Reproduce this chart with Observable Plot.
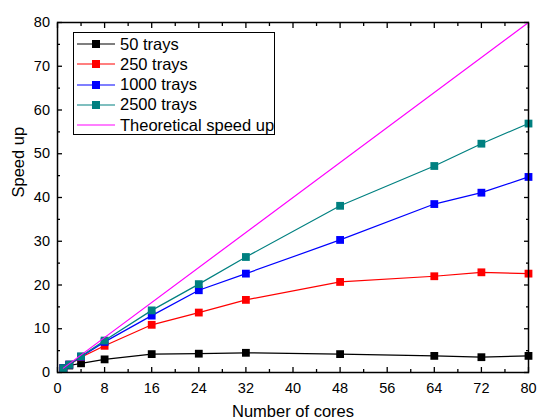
<!DOCTYPE html>
<html>
<head>
<meta charset="utf-8">
<script src="https://cdn.jsdelivr.net/npm/d3@7"></script>
<script src="https://cdn.jsdelivr.net/npm/@observablehq/plot@0.6"></script>
<style>
  html, body { margin: 0; padding: 0; background: #fff; }
  #chart { position: relative; width: 537px; height: 419px; font-family: "Liberation Sans", Arial, sans-serif; }
  #legend {
    position: absolute; left: 73px; top: 32px; width: 202px; height: 103px;
    border: 1px solid #000; background: #fff; box-sizing: border-box;
  }
  #legend .row { position: absolute; left: 0; height: 20px; display: flex; align-items: center; }
  #legend .row span { font-size: 16.5px; color: #000; margin-left: 4px; white-space: nowrap; }
</style>
</head>
<body>
<div id="chart"></div>
<script>
// Speed up measured for each problem size against the number of cores
const cores = [1, 2, 4, 8, 16, 24, 32, 48, 64, 72, 80];
const trays50   = [1.0, 1.6, 2.1, 3.0, 4.2, 4.3, 4.5, 4.2, 3.8, 3.5, 3.8];
const trays250  = [1.0, 1.8, 3.5, 6.1, 10.9, 13.7, 16.6, 20.7, 22.0, 22.9, 22.6];
const trays1000 = [1.0, 1.8, 3.6, 7.0, 13.0, 18.8, 22.6, 30.3, 38.5, 41.1, 44.7];
const trays2500 = [1.0, 1.8, 3.7, 7.3, 14.2, 20.2, 26.4, 38.1, 47.2, 52.3, 56.9];

// Ideal linear speed up
const idealCores = [1, 80];
const idealSpeedup = [1, 80];

const seriesNames = ["50 trays", "250 trays", "1000 trays", "2500 trays"];
const seriesValues = [trays50, trays250, trays1000, trays2500];
const seriesColors = ["#000000", "#ff0000", "#0000ff", "#008080"];
const idealName = "Theoretical speed up";
const idealColor = "#ff00ff";

// Axis ticks
const xMajor = [0, 8, 16, 24, 32, 40, 48, 56, 64, 72, 80];
const xMinor = [4, 12, 20, 28, 36, 44, 52, 60, 68, 76];
const yMajor = [0, 10, 20, 30, 40, 50, 60, 70, 80];
const yMinor = [5, 15, 25, 35, 45, 55, 65, 75];

const rows = [];
seriesNames.forEach((name, s) => {
  cores.forEach((c, i) => rows.push({series: name, cores: c, speedup: seriesValues[s][i]}));
});
const ideal = idealCores.map((c, i) => ({cores: c, speedup: idealSpeedup[i]}));

const tickFont = {fontSize: 14.5, fill: "#000"};
const marks = [];

// Ticks point inward on all four sides of the frame
marks.push(
  Plot.axisX(xMajor, {anchor: "bottom", tickSize: -5, tickPadding: 15, ...tickFont, label: null, strokeWidth: 1.3}),
  Plot.axisX(xMinor, {anchor: "bottom", tickSize: -3, tickFormat: () => "", label: null, strokeWidth: 1.3}),
  Plot.axisX(xMajor, {anchor: "top", tickSize: -5, tickFormat: () => "", label: null, strokeWidth: 1.3}),
  Plot.axisX(xMinor, {anchor: "top", tickSize: -3, tickFormat: () => "", label: null, strokeWidth: 1.3}),
  Plot.axisY(yMajor, {anchor: "left", tickSize: -5, tickPadding: 12.5, ...tickFont, label: null, strokeWidth: 1.3}),
  Plot.axisY(yMinor, {anchor: "left", tickSize: -3, tickFormat: () => "", label: null, strokeWidth: 1.3}),
  Plot.axisY(yMajor, {anchor: "right", tickSize: -5, tickFormat: () => "", label: null, strokeWidth: 1.3}),
  Plot.axisY(yMinor, {anchor: "right", tickSize: -3, tickFormat: () => "", label: null, strokeWidth: 1.3})
);

seriesNames.forEach((name, s) => {
  const data = rows.filter(d => d.series === name);
  marks.push(
    Plot.line(data, {x: "cores", y: "speedup", stroke: seriesColors[s], strokeWidth: 1.2}),
    Plot.dot(data, {x: "cores", y: "speedup", symbol: "square", r: 4.4, fill: seriesColors[s], stroke: "none"})
  );
});
marks.push(Plot.line(ideal, {x: "cores", y: "speedup", stroke: idealColor, strokeWidth: 1.2}));

marks.push(
  Plot.frame({stroke: "#000", strokeWidth: 1.5}),
  Plot.text(["Number of cores"], {frameAnchor: "bottom", dy: 39.5, lineAnchor: "middle", fontSize: 16.5, fill: "#000"}),
  Plot.text(["Speed up"], {frameAnchor: "left", dx: -38.5, rotate: -90, lineAnchor: "middle", fontSize: 16.5, fill: "#000"})
);

const plot = Plot.plot({
  width: 537,
  height: 419,
  marginLeft: 57,
  marginRight: 9,
  marginTop: 22,
  marginBottom: 47,
  style: {fontFamily: "'Liberation Sans', Arial, sans-serif", background: "#fff", overflow: "visible"},
  x: {domain: [0, 80]},
  y: {domain: [0, 80]},
  marks
});

const chart = document.getElementById("chart");
chart.appendChild(plot);

// Legend drawn over the upper-left corner of the plot area
const legend = document.createElement("div");
legend.id = "legend";
const entries = seriesNames.map((n, i) => ({name: n, color: seriesColors[i], marker: true}))
  .concat([{name: idealName, color: idealColor, marker: false}]);
entries.forEach((e, i) => {
  const row = document.createElement("div");
  row.className = "row";
  row.style.top = (1 + i * 20.3) + "px";
  const svg = d3.create("svg").attr("width", 42).attr("height", 20);
  svg.append("line").attr("x1", 3).attr("x2", 41).attr("y1", 10).attr("y2", 10)
    .attr("stroke", e.color).attr("stroke-width", 1.2);
  if (e.marker) {
    svg.append("rect").attr("x", 18).attr("y", 6).attr("width", 8).attr("height", 8).attr("fill", e.color);
  }
  row.appendChild(svg.node());
  const label = document.createElement("span");
  label.textContent = e.name;
  row.appendChild(label);
  legend.appendChild(row);
});
chart.appendChild(legend);
</script>
</body>
</html>
